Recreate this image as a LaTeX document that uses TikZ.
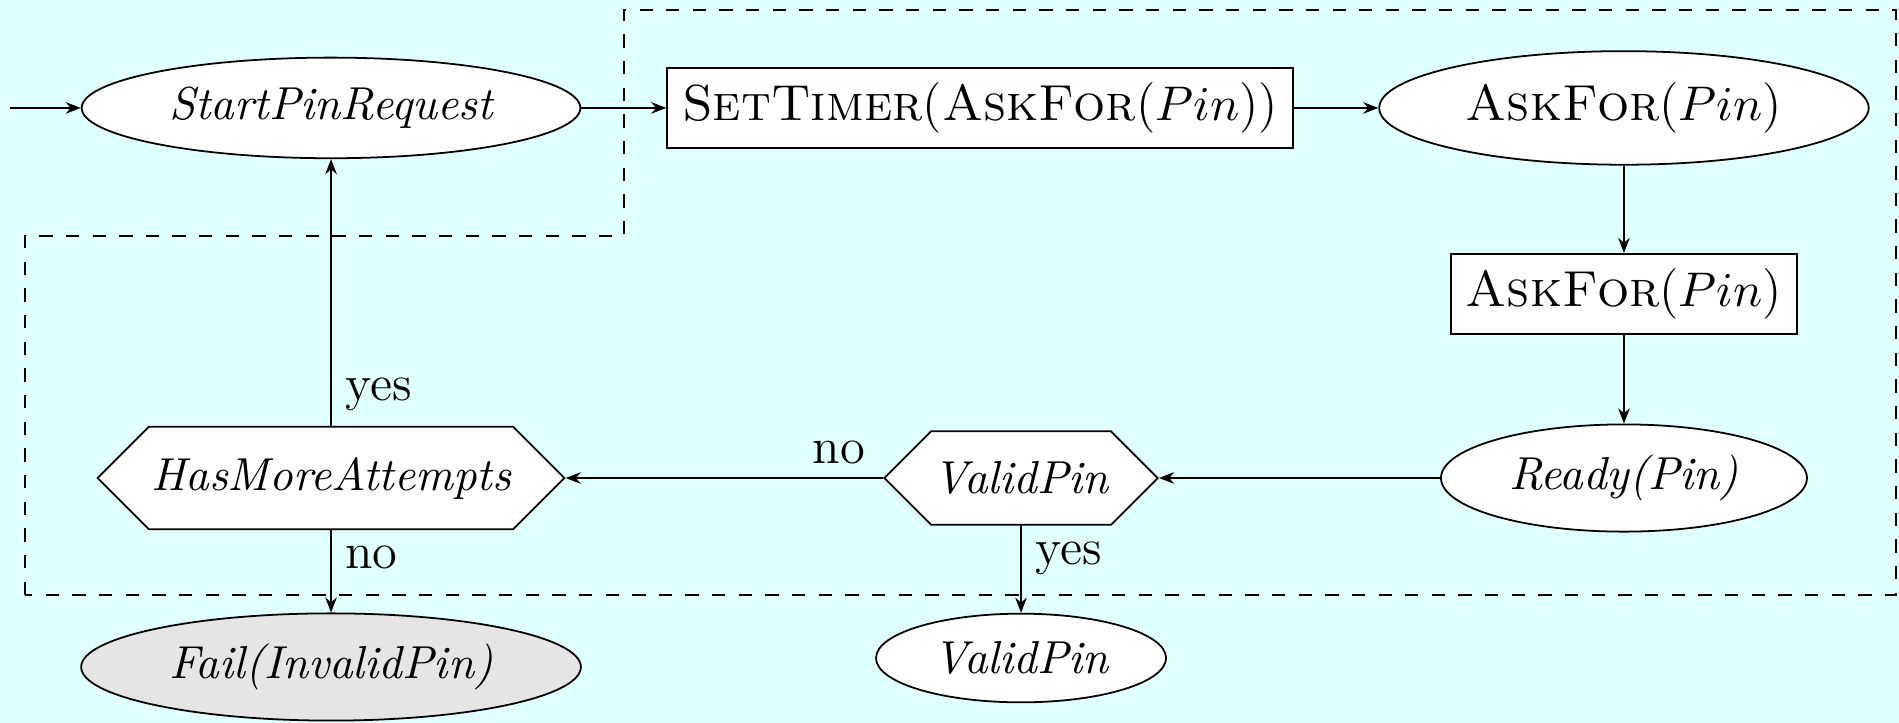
\documentclass[tikz,border=0pt]{standalone}
\usepackage{amsmath,amssymb}
\usepackage{tikz}
\usetikzlibrary{arrows.meta,shapes.geometric,shapes.symbols}
\definecolor{bgcyan}{RGB}{224,255,255}
\definecolor{failgray}{RGB}{229,229,229}

\begin{document}
\begin{tikzpicture}[
  >={Stealth[length=3.4pt,width=2.6pt]},
  state/.style={ellipse, draw, fill=white, font=\fontsize{10.4}{12.5}\selectfont\itshape},
  call/.style={ellipse, draw, fill=white, font=\fontsize{11.4}{13.7}\selectfont},
  act/.style={rectangle, draw, fill=white, font=\fontsize{11.4}{13.7}\selectfont},
  test/.style={signal, signal to=east and west, draw, fill=white,
    inner xsep=0.5pt, inner ysep=6.8pt, font=\fontsize{10.4}{12.5}\selectfont\itshape},
  lbl/.style={font=\fontsize{11.4}{13.7}\selectfont, inner sep=3pt}]

% canvas
\fill[bgcyan] (0,0) rectangle (15.024,5.72);
\useasboundingbox (0,0) rectangle (15.024,5.72);

% the retry loop
\draw[dashed] (0.198,1.013) -- (0.198,3.853) -- (4.937,3.853) -- (4.937,5.641)
  -- (15.0,5.641) -- (15.0,1.013) -- cycle;

% states and actions
\coordinate (in) at (0.079,4.866);
\node[state] (start)  at (2.619,4.866)  {StartPinRequest};
\node[act]   (timer)  at (7.753,4.866)  {\textsc{SetTimer}(\textsc{AskFor}($Pin$))};
\node[call]  (ask)    at (12.848,4.866) {\textsc{AskFor}($Pin$)};
\node[act]   (askbox) at (12.848,3.394) {\textsc{AskFor}($Pin$)};
\node[state] (ready)  at (12.848,1.938) {Ready(Pin)};
\node[test]  (valid)  at (8.078,1.938)  {ValidPin};
\node[test]  (more)   at (2.619,1.938)  {HasMoreAttempts};
\node[state, fill=failgray] (fail) at (2.619,0.443) {Fail(InvalidPin)};
\node[state] (ok)     at (8.078,0.514)  {ValidPin};

% transitions
\draw[->] (in) -- (start);
\draw[->] (start) -- (timer);
\draw[->] (timer) -- (ask);
\draw[->] (ask) -- (askbox);
\draw[->] (askbox) -- (ready);
\draw[->] (ready) -- (valid);
\draw[->] (valid) -- node[lbl, above, pos=0.14] {no} (more);
\draw[->] (valid) -- node[lbl, right, pos=0.38] {yes} (ok);
\draw[->] (more) -- node[lbl, right, pos=0.12] {yes} (start);
\draw[->] (more) -- node[lbl, right, pos=0.33] {no} (fail);

\end{tikzpicture}
\end{document}
